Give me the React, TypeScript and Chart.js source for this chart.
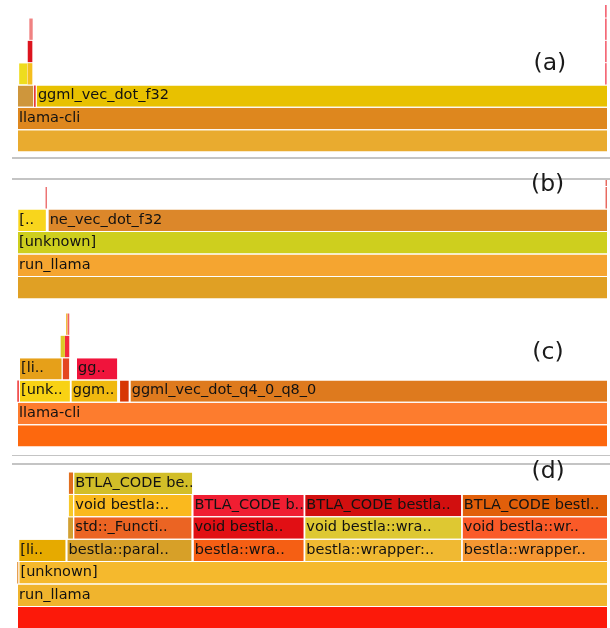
import { useEffect, useRef } from "react";
import { Chart, registerables } from "chart.js";

Chart.register(...registerables);

// ---- Profile (a): llama-cli, ggml_vec_dot_f32 ----
const aLevel = [0, 1, 2, 2, 2, 3, 3, 3, 4, 4, 5, 5, 6];
const aStart = [0, 0, 0, 2.88, 3.2, 0.2, 1.78, 99.66, 1.82, 99.66, 2.09, 99.66, 99.66];
const aEnd = [100, 100, 2.78, 3.17, 100, 1.75, 2.6, 99.95, 2.6, 99.95, 2.66, 99.95, 99.95];
const aName = ["", "llama-cli", "", "", "ggml_vec_dot_f32", "", "", "", "", "", "", "", ""];
const aColor = [
  "#e9ab2f", "#de871e", "#ce963c", "#e83838", "#e8c100",
  "#eedc1e", "#f5be1e", "#f46a78", "#dc141e", "#f46a78", "#f08282", "#f46a78", "#f46a78",
];

// ---- Profile (b): run_llama, ne_vec_dot_f32 ----
const bLevel = [0, 1, 2, 3, 3, 4, 4, 5];
const bStart = [0, 0, 0, 0.05, 5.2, 4.85, 99.75, 99.75];
const bEnd = [100, 100, 100, 4.9, 100, 5.05, 100, 100];
const bName = ["", "run_llama", "[unknown]", "[..", "ne_vec_dot_f32", "", "", ""];
const bColor = ["#e0a024", "#f5a530", "#cecf1e", "#f8d51c", "#dc872a", "#e85050", "#e86a60", "#e86a60"];

// ---- Profile (c): llama-cli, ggml_vec_dot_q4_0_q8_0 ----
const cLevel = [0, 1, 2, 2, 2, 2, 2, 3, 3, 3, 4, 4, 5, 5];
const cStart = [0, 0, 0.05, 0.34, 9.1, 17.3, 19.1, 0.34, 7.6, 10.0, 7.4, 8.14, 8.3, 8.58];
const cEnd = [100, 100, 0.32, 8.97, 17.0, 18.95, 100, 7.58, 8.87, 17.0, 8.12, 8.86, 8.56, 8.86];
const cName = [
  "", "llama-cli", "", "[unk..", "ggm..", "", "ggml_vec_dot_q4_0_q8_0",
  "[li..", "", "gg..", "", "", "", "",
];
const cColor = [
  "#fd680e", "#fd7c2e", "#f03c3c", "#f8d214", "#f0b90f", "#d73705", "#de7a1e",
  "#e6a019", "#e44620", "#f0143c", "#dcc828", "#f5283c", "#f0c040", "#f06060",
];

// ---- Profile (d): run_llama, bestla kernels ----
const dLevel = [
  0, 1, 2, 2,
  3, 3, 3, 3, 3,
  4, 4, 4, 4, 4,
  5, 5, 5, 5, 5,
  6, 6,
];
const dStart = [
  0, 0, 0, 0.25,
  0.22, 8.4, 29.8, 48.7, 75.4,
  8.5, 9.55, 29.75, 48.7, 75.4,
  8.8, 9.55, 29.75, 48.7, 75.4,
  8.8, 9.55,
];
const dEnd = [
  100, 100, 0.23, 100,
  8.25, 29.6, 48.6, 75.3, 100,
  9.5, 29.6, 48.6, 75.3, 100,
  9.5, 29.6, 48.6, 75.3, 100,
  9.5, 29.7,
];
const dName = [
  "", "run_llama", "", "[unknown]",
  "[li..", "bestla::paral..", "bestla::wra..", "bestla::wrapper:..", "bestla::wrapper..",
  "", "std::_Functi..", "void bestla..", "void bestla::wra..", "void bestla::wr..",
  "", "void bestla:..", "BTLA_CODE b..", "BTLA_CODE bestla..", "BTLA_CODE bestl..",
  "", "BTLA_CODE be..",
];
const dColor = [
  "#fc190a", "#f0b42d", "#e8a050", "#f5b92d",
  "#e6aa00", "#d7a028", "#f55f14", "#f0b932", "#f59632",
  "#d2a032", "#eb6423", "#e10f14", "#dec832", "#fa5a28",
  "#f8c828", "#fab91e", "#f01e32", "#d20f0f", "#e15f0a",
  "#e16e1e", "#d2be28",
];

const panelTags = ["(a)", "(b)", "(c)", "(d)"];

type PanelProps = {
  top: number;
  height: number;
  yMin: number;
  yMax: number;
  level: number[];
  start: number[];
  end: number[];
  name: string[];
  color: string[];
};

function FlamePanel(p: PanelProps) {
  const ref = useRef<HTMLCanvasElement>(null);

  useEffect(() => {
    if (!ref.current) return;

    // Writes each frame's name inside its bar, clipped to the bar.
    const frameLabels = {
      id: "frameLabels",
      afterDatasetsDraw(chart: any) {
        const { ctx } = chart;
        const meta = chart.getDatasetMeta(0);
        ctx.save();
        ctx.font = '14.5px "DejaVu Sans"';
        ctx.fillStyle = "#121212";
        ctx.textBaseline = "alphabetic";
        meta.data.forEach((el: any, i: number) => {
          const label = p.name[i];
          if (!label) return;
          const { x, base, y, height } = el.getProps(["x", "base", "y", "height"], true);
          const left = Math.min(x, base);
          const right = Math.max(x, base);
          ctx.save();
          ctx.beginPath();
          ctx.rect(left, y - height / 2, right - left, height);
          ctx.clip();
          ctx.fillText(label, left + 2, y + 3.3);
          ctx.restore();
        });
        ctx.restore();
      },
    };

    const chart = new Chart(ref.current, {
      type: "bar",
      data: {
        datasets: [
          {
            data: p.level.map((lv, i) => ({ y: lv + 0.5, x: [p.start[i], p.end[i]] })) as any,
            backgroundColor: p.color,
            borderColor: "rgba(255,255,255,0.55)",
            // thin towers keep their full colour; wider frames get a light left edge
            borderWidth: (ctx: any) =>
              p.end[ctx.dataIndex] - p.start[ctx.dataIndex] < 1
                ? 0
                : { left: 1, top: 0, right: 0, bottom: 0 },
            borderSkipped: false,
            barPercentage: 0.955,
            categoryPercentage: 1,
            grouped: false,
          },
        ],
      },
      options: {
        indexAxis: "y",
        responsive: false,
        animation: false,
        events: [],
        layout: { padding: { left: 17, right: 3, top: 0, bottom: 0 } },
        scales: {
          x: { type: "linear", min: 0, max: 100, display: false },
          y: {
            type: "linear",
            min: p.yMin,
            max: p.yMax,
            offset: false,
            display: false,
            grid: { offset: false },
            ticks: { stepSize: 1, includeBounds: false },
          },
        },
        plugins: { legend: { display: false }, tooltip: { enabled: false } },
      },
      plugins: [frameLabels],
    });

    return () => chart.destroy();
  }, [p]);

  return (
    <canvas
      ref={ref}
      width={610}
      height={p.height}
      style={{ position: "absolute", left: 0, top: p.top, width: 610, height: p.height }}
    />
  );
}

const panels: PanelProps[] = [
  { top: 5, height: 147, yMin: 0, yMax: 147 / 22.33, level: aLevel, start: aStart, end: aEnd, name: aName, color: aColor },
  { top: 180, height: 119, yMin: 0, yMax: 119 / 22.5, level: bLevel, start: bStart, end: bEnd, name: bName, color: bColor },
  { top: 313, height: 134, yMin: 0, yMax: 6, level: cLevel, start: cStart, end: cEnd, name: cName, color: cColor },
  { top: 472, height: 156, yMin: 7 - 156 / 22.4, yMax: 7, level: dLevel, start: dStart, end: dEnd, name: dName, color: dColor },
];

const rules = [
  { top: 157, height: 2 },
  { top: 178, height: 2 },
  { top: 454.5, height: 1.5 },
  { top: 463, height: 1.5 },
];

const tagPos = [
  { left: 533.5, top: 51 },
  { left: 531, top: 172 },
  { left: 532.3, top: 340 },
  { left: 531.5, top: 459 },
];

export default function App() {
  return (
    <div
      style={{
        position: "absolute",
        left: 0,
        top: 0,
        width: 610,
        height: 628,
        overflow: "hidden",
        background: "#ffffff",
        fontFamily: '"DejaVu Sans", sans-serif',
      }}
    >
      {panels.map((p, i) => (
        <FlamePanel key={i} {...p} />
      ))}
      {rules.map((r, i) => (
        <div
          key={"r" + i}
          style={{ position: "absolute", left: 12, width: 598, top: r.top, height: r.height, background: "#c4c4c4" }}
        />
      ))}
      {panelTags.map((t, i) => (
        <div
          key={"t" + i}
          style={{
            position: "absolute",
            left: tagPos[i].left,
            top: tagPos[i].top,
            fontSize: 23.5,
            lineHeight: "23.5px",
            color: "#1a1a1a",
            whiteSpace: "nowrap",
          }}
        >
          {t}
        </div>
      ))}
    </div>
  );
}
